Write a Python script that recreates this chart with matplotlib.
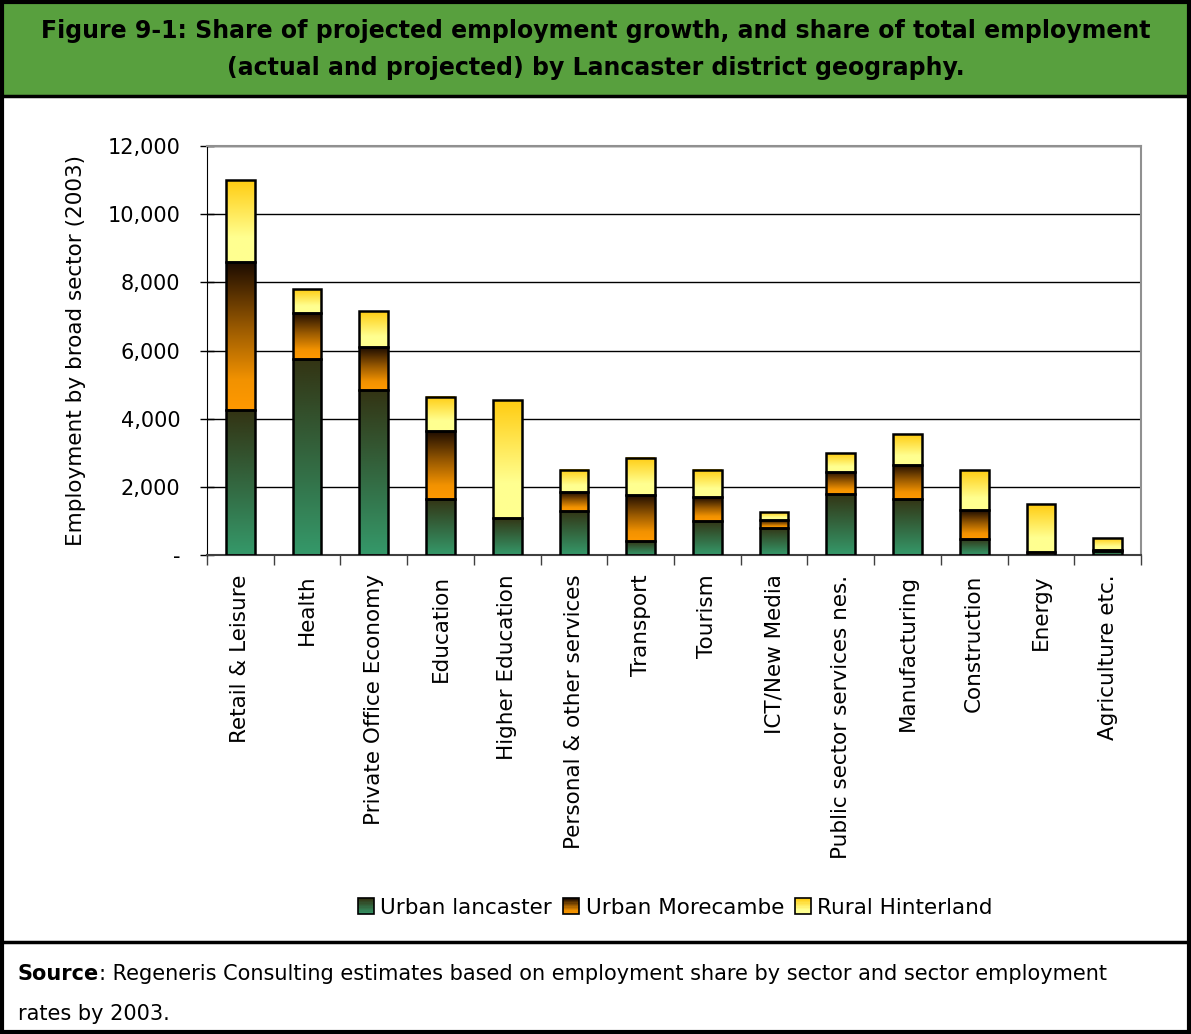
import numpy as np
import matplotlib
matplotlib.use('Agg')
import matplotlib.pyplot as plt
from matplotlib.colors import LinearSegmentedColormap
from matplotlib.patches import Rectangle
from matplotlib.legend_handler import HandlerBase
from matplotlib.ticker import FuncFormatter, MultipleLocator

# Employment by sector (2003), split by district geography
sectors = ['Retail & Leisure', 'Health', 'Private Office Economy', 'Education',
           'Higher Education', 'Personal & other services', 'Transport', 'Tourism',
           'ICT/New Media', 'Public sector services nes.', 'Manufacturing',
           'Construction', 'Energy', 'Agriculture etc.']
urban_lancaster = [4250, 5750, 4850, 1650, 1100, 1300, 400, 1000, 800, 1800, 1650, 480, 0, 120]
urban_morecambe = [4350, 1350, 1250, 2000, 0, 550, 1350, 700, 230, 650, 1000, 850, 100, 40]
rural_hinterland = [2400, 700, 1050, 1000, 3450, 650, 1100, 800, 230, 550, 900, 1170, 1400, 340]
series_names = ['Urban lancaster', 'Urban Morecambe', 'Rural Hinterland']

title = ('Figure 9-1: Share of projected employment growth, and share of total employment\n'
         '(actual and projected) by Lancaster district geography.')
ylabel = 'Employment by broad sector (2003)'
source_line1 = ': Regeneris Consulting estimates based on employment share by sector and sector employment'
source_line2 = 'rates by 2003.'

# gradients run from the top of each segment (0) to its bottom (1)
cmaps = [
    LinearSegmentedColormap.from_list('grn', [(0, '#333313'), (0.5, '#33663f'), (1, '#35996a')]),
    LinearSegmentedColormap.from_list('org', [(0, '#1a0a00'), (0.45, '#9a5a00'), (0.8, '#f29200'), (1, '#ff9900')]),
    LinearSegmentedColormap.from_list('yel', [(0, '#ffcc11'), (0.7, '#ffff90'), (1, '#ffff90')]),
]

plt.rcParams['font.family'] = 'DejaVu Sans'

fig = plt.figure(figsize=(11.91, 10.34), dpi=100)

# title and source boxes
fig.add_artist(Rectangle((0, 0.907), 1, 0.093, transform=fig.transFigure,
                         facecolor='#58a03e', edgecolor='none', zorder=0))
fig.add_artist(plt.Line2D([0, 1], [0.907, 0.907], transform=fig.transFigure, color='black', lw=2.5))
fig.add_artist(plt.Line2D([0, 1], [0.089, 0.089], transform=fig.transFigure, color='black', lw=2.5))
fig.add_artist(Rectangle((0.0015, 0.0015), 0.997, 0.997, transform=fig.transFigure,
                         facecolor='none', edgecolor='black', lw=3, zorder=5))

fig.text(0.5, 0.952, title, ha='center', va='center', fontsize=17, fontweight='bold',
         linespacing=1.7)

ax = fig.add_axes([0.1738, 0.4632, 0.958 - 0.1738, 0.8588 - 0.4632])

src = fig.text(0.015, 0.052, 'Source', ha='left', va='baseline', fontsize=15, fontweight='bold')
ax.annotate(source_line1, xy=(1, 0), xycoords=src, va='bottom', ha='left',
            fontsize=15, annotation_clip=False)
fig.text(0.015, 0.014, source_line2, ha='left', va='baseline', fontsize=15)

x = np.arange(len(sectors))
width = 0.43

bottom = np.zeros(len(sectors))
for vals, cmap, name in zip([urban_lancaster, urban_morecambe, rural_hinterland], cmaps, series_names):
    vals = np.array(vals, dtype=float)
    bars = ax.bar(x, vals, width, bottom=bottom, facecolor='none', edgecolor='black',
                  linewidth=1.8, zorder=3, label=name)
    grad = np.linspace(0, 1, 256).reshape(-1, 1)
    for b in bars:
        if b.get_height() <= 0:
            b.set_visible(False)
            continue
        x0, y0 = b.get_x(), b.get_y()
        ax.imshow(grad, cmap=cmap, extent=[x0, x0 + b.get_width(), y0, y0 + b.get_height()],
                  aspect='auto', origin='upper', zorder=2.5, interpolation='bilinear')
    bottom += vals

ax.set_xlim(-0.5, len(sectors) - 0.5)
ax.set_ylim(0, 12000)
ax.yaxis.set_major_locator(MultipleLocator(2000))
ax.yaxis.set_major_formatter(FuncFormatter(lambda v, p: '-' if v == 0 else f'{v:,.0f}'))
ax.grid(axis='y', color='black', linewidth=1, zorder=1)
ax.set_axisbelow(True)

ax.set_xticks(x)
ax.set_xticklabels(sectors, rotation=90, fontsize=15.5)
ax.set_xticks(np.arange(-0.5, len(sectors)), minor=True)
ax.tick_params(axis='x', which='major', length=0, pad=14)
ax.tick_params(axis='x', which='minor', length=7, direction='out', width=1, color='#404040')
ax.tick_params(axis='y', labelsize=15, direction='inout', length=10, width=1, pad=14)
ax.set_ylabel(ylabel, fontsize=15.5, labelpad=16)

for side in ['top', 'right']:
    ax.spines[side].set_color('#909090')
    ax.spines[side].set_linewidth(1.5)
ax.spines['left'].set_color('black')
ax.spines['bottom'].set_color('#404040')
ax.spines['bottom'].set_linewidth(1.5)


class GradientHandler(HandlerBase):
    def __init__(self, cmap):
        super().__init__()
        self.cmap = cmap

    def create_artists(self, legend, orig_handle, xdescent, ydescent, width, height, fontsize, trans):
        size = min(width, height)
        x0 = -xdescent + (width - size) / 2
        y0 = -ydescent + (height - size) / 2
        n = 12
        artists = []
        for i in range(n):
            c = self.cmap(1 - (i + 0.5) / n)
            artists.append(Rectangle((x0, y0 + size * i / n), size, size / n + 0.3,
                                     facecolor=c, edgecolor='none', transform=trans))
        artists.append(Rectangle((x0, y0), size, size, facecolor='none', edgecolor='black',
                                 lw=1.2, transform=trans))
        return artists


handles = [Rectangle((0, 0), 1, 1) for _ in series_names]
fig.legend(handles, series_names, loc='center', bbox_to_anchor=(0.567, 0.122), ncol=3,
           frameon=False, fontsize=15.5, handlelength=0.75, handleheight=0.75,
           handletextpad=0.3, columnspacing=0.5,
           handler_map={h: GradientHandler(c) for h, c in zip(handles, cmaps)})

fig.savefig('out.png', dpi=100)
